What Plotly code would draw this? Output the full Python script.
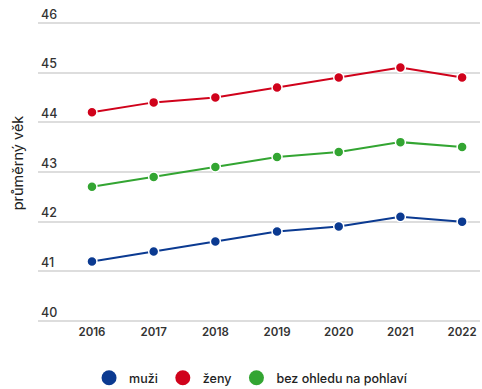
import plotly.graph_objects as go

years = [2016, 2017, 2018, 2019, 2020, 2021, 2022]
muzi = [41.2, 41.4, 41.6, 41.8, 41.9, 42.1, 42.0]
zeny = [44.2, 44.4, 44.5, 44.7, 44.9, 45.1, 44.9]
bez = [42.7, 42.9, 43.1, 43.3, 43.4, 43.6, 43.5]
names = ["muži", "ženy", "bez ohledu na pohlaví"]
colors = ["#0b3a91", "#d0021b", "#33a532"]
y_ticks = [40, 41, 42, 43, 44, 45, 46]

fig = go.Figure()
for name, vals, col in zip(names, [muzi, zeny, bez], colors):
    fig.add_trace(go.Scatter(
        x=years, y=vals, mode="lines+markers", name=name, showlegend=False,
        line=dict(color=col, width=2),
        marker=dict(size=10, color=col, line=dict(color="white", width=1.5)),
        hoverinfo="x+y"))
for name, col in zip(names, colors):
    fig.add_trace(go.Scatter(
        x=[None], y=[None], mode="markers", name=name,
        marker=dict(size=15, color=col)))

fig.update_layout(
    width=482, height=389,
    margin=dict(l=38, r=2, t=3, b=66),
    paper_bgcolor="white", plot_bgcolor="white",
    font=dict(family="Inter", size=11, color="#333333"),
    showlegend=True,
    legend=dict(orientation="h", x=0.482, xanchor="center",
                yref="container", y=0.028, yanchor="middle",
                font=dict(size=12.5, color="#222222", weight=500), itemsizing="trace",
                traceorder="normal", itemwidth=30),
    xaxis=dict(range=[2015.125, 2022.29], tickvals=years, ticktext=[str(y) for y in years],
               showgrid=False, zeroline=False, showline=False, ticks="", automargin=False,
               tickfont=dict(size=11.5, color="#333333", weight=600)),
    yaxis=dict(range=[39.96, 46.40], tickvals=y_ticks, showgrid=True, gridcolor="#dddddd",
               gridwidth=1.5, zeroline=False, showline=False, ticks="", automargin=False,
               ticklabelposition="inside top",
               tickfont=dict(size=12.5, color="#333333", weight=500),
               title=dict(text="průměrný věk", standoff=13,
                          font=dict(size=14.5, color="#222222"))),
)
fig.write_html("out.html", config={"displayModeBar": False},
               post_script="document.body.style.margin='0';")
